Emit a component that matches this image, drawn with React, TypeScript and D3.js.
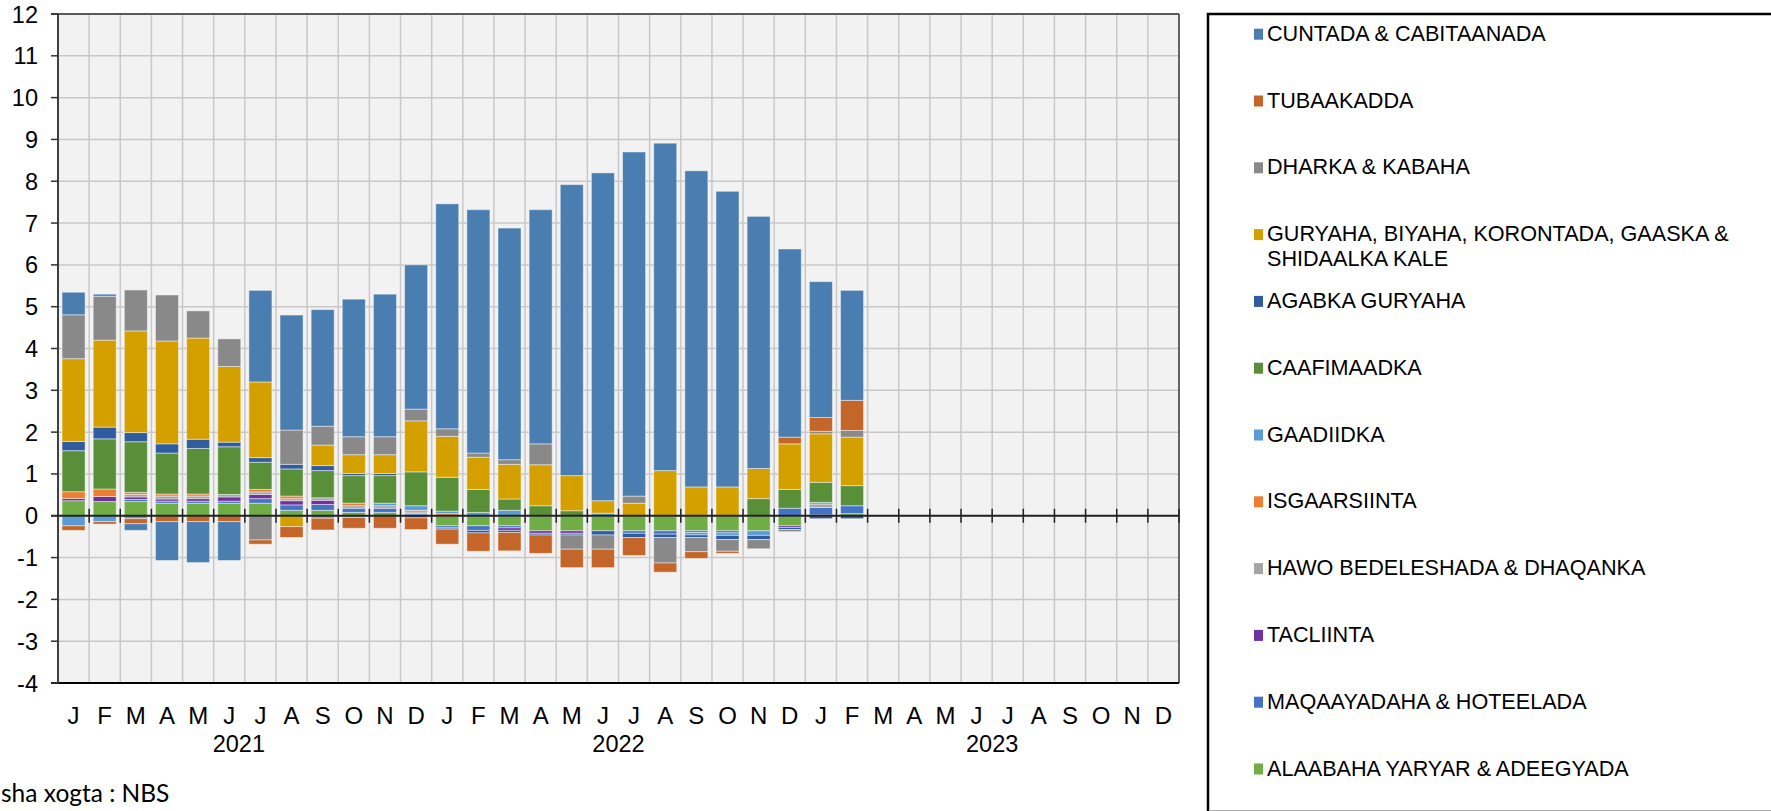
import React from "react";
import * as d3 from "d3";

// ---------- DATA ----------
const monthLetters = ["J", "F", "M", "A", "M", "J", "J", "A", "S", "O", "N", "D"];
const years = ["2021", "2022", "2023"];
const periods = years.flatMap((yr) => monthLetters.map((_, i) => `${yr}-${i + 1}`));

// Jan 2021 .. Feb 2023 (26 months), contributions in percentage points
const alaabaha = [0.36, 0.34, 0.34, 0.30, 0.30, 0.30, 0.30, 0.13, 0.13, 0.08, 0.08, 0.02, -0.24, -0.24, -0.24, -0.36, -0.36, -0.36, -0.36, -0.36, -0.36, -0.36, -0.36, -0.24, 0.02, 0.05];
const maqaayadaha = [0, 0, 0.05, 0.05, 0.05, 0.05, 0.11, 0.13, 0.14, 0.10, 0.10, 0.03, -0.05, -0.11, -0.05, 0, 0, 0, -0.06, -0.08, -0.04, -0.05, 0, 0.18, 0.18, 0.19];
const tacliinta = [0.056, 0.12, 0.06, 0.05, 0.06, 0.10, 0.10, 0.10, 0.10, 0, 0, 0, 0, 0, -0.06, -0.06, -0.06, 0, 0, 0, 0, 0, 0, -0.04, 0, 0];
const hawo = [0, 0, 0.06, 0.07, 0.06, 0.06, 0.06, 0.05, 0.06, 0.06, 0.06, 0.04, 0, 0, 0, 0, 0, 0, 0, 0, 0, 0, 0, 0, 0.08, 0];
const isgaarsiinta = [0.16, 0.18, 0.05, 0.05, 0.05, 0, 0.06, 0.06, 0, 0.06, 0, 0.04, 0.05, 0, 0, 0, 0, 0, 0, 0, 0, 0, 0, 0, 0, 0];
const gaadiidka = [-0.24, -0.14, -0.07, 0, 0, 0, 0, 0, -0.06, -0.04, 0.06, 0.11, 0.06, 0.08, 0.13, 0, 0, 0.06, 0, 0, -0.06, -0.06, -0.11, 0, 0.04, 0];
const caafimaadka = [0.98, 1.20, 1.21, 0.98, 1.09, 1.14, 0.65, 0.65, 0.65, 0.66, 0.66, 0.81, 0.81, 0.55, 0.27, 0.24, 0.12, 0, 0, 0, 0, 0, 0.41, 0.45, 0.48, 0.48];
const agabka = [0.22, 0.28, 0.22, 0.22, 0.22, 0.11, 0.11, 0.11, 0.12, 0.05, 0.05, -0.05, -0.03, -0.06, -0.05, -0.04, -0.04, -0.10, -0.10, -0.08, -0.06, -0.10, -0.10, -0.05, -0.07, -0.07];
const guryaha = [1.98, 2.08, 2.43, 2.46, 2.42, 1.81, 1.81, -0.26, 0.49, 0.45, 0.45, 1.22, 0.98, 0.77, 0.83, 0.98, 0.84, 0.30, 0.30, 1.08, 0.69, 0.69, 0.72, 1.09, 1.16, 1.16];
const dharka = [1.05, 1.05, 0.98, 1.10, 0.65, 0.66, -0.58, 0.82, 0.45, 0.43, 0.43, 0.28, 0.18, 0.10, 0.11, 0.50, -0.34, -0.34, 0.17, -0.61, -0.34, -0.28, -0.22, -0.05, 0.06, 0.16];
const tubaakadda = [-0.11, -0.06, -0.12, -0.14, -0.14, -0.14, -0.10, -0.26, -0.28, -0.26, -0.30, -0.28, -0.36, -0.44, -0.44, -0.44, -0.44, -0.44, -0.43, -0.22, -0.16, -0.05, 0, 0.16, 0.33, 0.72];
const cuntada = [0.54, 0.05, -0.16, -0.93, -0.98, -0.93, 2.19, 2.75, 2.79, 3.29, 3.41, 3.45, 5.38, 5.82, 5.54, 5.60, 6.96, 7.84, 8.23, 7.83, 7.56, 7.07, 6.03, 4.50, 3.25, 2.63];

// stacking order (first = closest to zero)
const seriesKeys = ["alaabaha", "maqaayadaha", "tacliinta", "hawo", "isgaarsiinta", "gaadiidka", "caafimaadka", "agabka", "guryaha", "dharka", "tubaakadda", "cuntada"];
const seriesValues: Record<string, number[]> = { alaabaha, maqaayadaha, tacliinta, hawo, isgaarsiinta, gaadiidka, caafimaadka, agabka, guryaha, dharka, tubaakadda, cuntada };
const seriesLabels: Record<string, string[]> = {
  cuntada: ["CUNTADA & CABITAANADA"],
  tubaakadda: ["TUBAAKADDA"],
  dharka: ["DHARKA & KABAHA"],
  guryaha: ["GURYAHA, BIYAHA, KORONTADA, GAASKA &", "SHIDAALKA KALE"],
  agabka: ["AGABKA GURYAHA"],
  caafimaadka: ["CAAFIMAADKA"],
  gaadiidka: ["GAADIIDKA"],
  isgaarsiinta: ["ISGAARSIINTA"],
  hawo: ["HAWO BEDELESHADA & DHAQANKA"],
  tacliinta: ["TACLIINTA"],
  maqaayadaha: ["MAQAAYADAHA & HOTEELADA"],
  alaabaha: ["ALAABAHA YARYAR & ADEEGYADA"],
};
const seriesColors: Record<string, string> = {
  cuntada: "#4A7EB0",
  tubaakadda: "#C4652A",
  dharka: "#898989",
  guryaha: "#D4A000",
  agabka: "#2F5B9F",
  caafimaadka: "#5A8F3A",
  gaadiidka: "#5B9BD5",
  isgaarsiinta: "#ED7D31",
  hawo: "#A5A5A5",
  tacliinta: "#7030A0",
  maqaayadaha: "#4472C4",
  alaabaha: "#70AD47",
};
const legendOrder = [...seriesKeys].reverse();
const yTickValues = d3.range(-4, 13);
const sourceText = "sha xogta : NBS";

// ---------- CHART ----------
const W = 1771;
const H = 811;
const L = 58, R = 1179, T = 14, B = 683;

export default function App() {
  const x = d3.scaleBand<string>().domain(periods).range([L, R]).paddingInner(0.26).paddingOuter(0.13);
  const y = d3.scaleLinear().domain([-4, 12]).range([B, T]);
  const step = x.step();
  const boundaries = d3.range(0, periods.length + 1).map((i) => L + i * step);

  const rows = seriesValues.cuntada.map((_, i) => {
    const r: any = { period: periods[i] };
    seriesKeys.forEach((k) => (r[k] = seriesValues[k][i]));
    return r;
  });
  const stacked = d3.stack<any>().keys(seriesKeys).offset(d3.stackOffsetDiverging)(rows);

  const y0 = y(0);
  const font = "'Liberation Sans', Arial, sans-serif";

  return (
    <svg width={W} height={H} style={{ position: "absolute", left: 0, top: 0, display: "block" }} fontFamily={font}>
      <rect x={0} y={0} width={W} height={H} fill="#ffffff" />
      {/* plot background */}
      <rect x={L} y={T} width={R - L} height={B - T} fill="#F2F2F2" />
      {/* horizontal grid */}
      {yTickValues.map((v) => (
        <line key={"h" + v} x1={L} x2={R} y1={y(v)} y2={y(v)} stroke="#C8C8C8" strokeWidth={1.5} />
      ))}
      {/* vertical grid */}
      {boundaries.slice(1, -1).map((bx, i) => (
        <line key={"v" + i} x1={bx} x2={bx} y1={T} y2={B} stroke="#C8C8C8" strokeWidth={1.5} />
      ))}
      {/* bars */}
      {stacked.map((layer) => (
        <g key={layer.key} fill={seriesColors[layer.key]}>
          {layer.map((d, i) => {
            if (d[0] === d[1]) return null;
            const top = y(Math.max(d[0], d[1]));
            const bot = y(Math.min(d[0], d[1]));
            return (
              <rect
                key={i}
                x={x(d.data.period)}
                y={top}
                width={x.bandwidth()}
                height={bot - top}
                stroke="rgba(255,255,255,0.45)"
                strokeWidth={1}
              />
            );
          })}
        </g>
      ))}
      {/* frame */}
      <line x1={L - 7} x2={R} y1={T} y2={T} stroke="#595959" strokeWidth={2} />
      <line x1={R} x2={R} y1={T} y2={B} stroke="#333" strokeWidth={1.5} />
      <line x1={L - 7} x2={R} y1={B} y2={B} stroke="#000" strokeWidth={2} />
      <line x1={L} x2={L} y1={T} y2={B} stroke="#404040" strokeWidth={2} />
      {/* zero axis */}
      <line x1={L - 7} x2={R} y1={y0} y2={y0} stroke="#222" strokeWidth={2} />
      {boundaries.slice(1).map((bx, i) => (
        <line key={"t" + i} x1={bx} x2={bx} y1={y0 - 7} y2={y0 + 7} stroke="#222" strokeWidth={1.5} />
      ))}
      {/* y ticks */}
      {yTickValues.map((v) => (
        <g key={"yt" + v}>
          <line x1={L - 7} x2={L} y1={y(v)} y2={y(v)} stroke="#333" strokeWidth={1.5} />
          <text x={38} y={y(v) + 8.5} textAnchor="end" fontSize={23.5} fill="#000">
            {v}
          </text>
        </g>
      ))}
      {/* month labels */}
      {periods.map((p, i) => (
        <text key={"m" + p} x={(x(p) as number) + x.bandwidth() / 2} y={724} textAnchor="middle" fontSize={24} fill="#000">
          {monthLetters[i % 12]}
        </text>
      ))}
      {/* year labels */}
      {years.map((yr, i) => (
        <text key={yr} x={L + (i * 12 + 6) * step - (i === 0 ? 6 : 0)} y={752} textAnchor="middle" fontSize={23.5} fill="#000">
          {yr}
        </text>
      ))}
      {/* source */}
      <text x={1} y={802} textAnchor="start" fontSize={24.5} fontFamily="Lato, 'Open Sans', sans-serif" fill="#000">
        {sourceText}
      </text>
      {/* legend */}
      <rect x={1208} y={14} width={620} height={820} fill="#fff" stroke="#000" strokeWidth={2.5} />
      <line x1={1209} x2={1771} y1={810.5} y2={810.5} stroke="#B0B0B0" strokeWidth={1} />
      {legendOrder.map((k, i) => {
        const base = 40.7 + i * 66.8;
        return (
          <g key={"lg" + k}>
            <rect x={1254} y={base - 12} width={9} height={11} fill={seriesColors[k]} />
            {seriesLabels[k].map((line, j) => (
              <text
                key={j}
                transform={`translate(1267,${base + j * 25}) scale(0.96,1)`}
                fontSize={22.5}
                fill="#000"
              >
                {line}
              </text>
            ))}
          </g>
        );
      })}
    </svg>
  );
}
